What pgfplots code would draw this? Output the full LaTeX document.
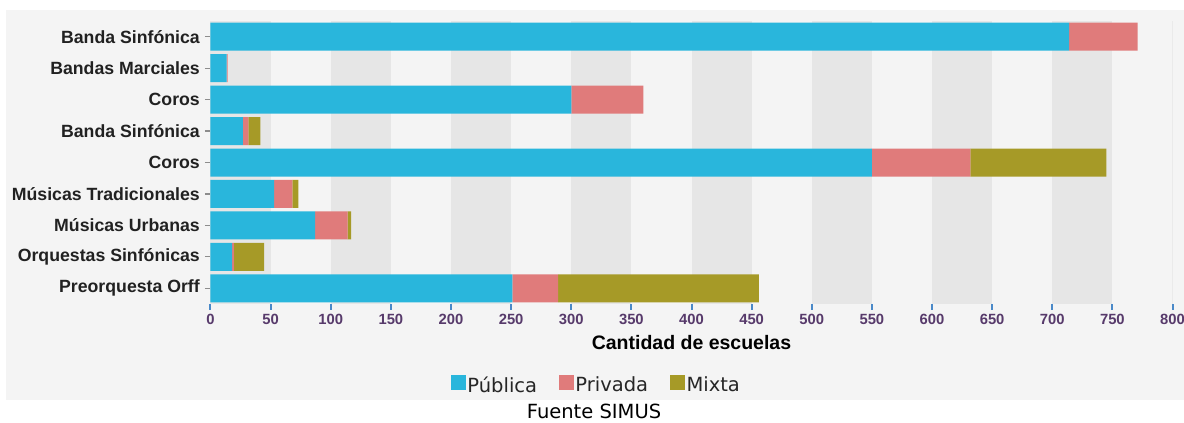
\documentclass[border=0pt]{standalone}
\usepackage{pgfplots}
\pgfplotsset{compat=1.18}
\usepackage{fontspec}
\setmainfont{Liberation Sans}
\newfontfamily\dejavu{DejaVu Sans}
\definecolor{cpub}{HTML}{29B6DC}
\definecolor{cpriv}{HTML}{E07B7B}
\definecolor{cmix}{HTML}{A69A27}
\definecolor{panel}{HTML}{F4F4F4}
\definecolor{band}{HTML}{E6E6E6}
\definecolor{tickblue}{HTML}{4A89C8}
\definecolor{ticklab}{HTML}{573A6B}
\begin{document}
\begin{tikzpicture}
\useasboundingbox[fill=white] (-210.5bp,-119bp) rectangle (973.5bp,304bp);
\fill[panel] (-204.5bp,-96bp) rectangle (973.5bp,294bp);
\begin{axis}[
 at={(0,0)}, anchor=south west,
 scale only axis, width=962bp, height=283bp,
 xbar stacked, bar width=28bp,
 xmin=0, xmax=800, ymin=-0.5, ymax=8.5, y dir=reverse,
 axis x line*=bottom, axis y line*=left, axis line style={draw=none},
 xtick={0,50,...,800},
 ytick={0,...,8},
 yticklabels={Banda Sinfónica, Bandas Marciales, Coros, Banda Sinfónica, Coros, Músicas Tradicionales, Músicas Urbanas, Orquestas Sinfónicas, Preorquesta Orff},
 tick align=outside, major tick length=5.5bp,
 xtick style={color=tickblue, line width=2bp},
 ytick style={color=black!45, line width=1.2bp},
 extra x ticks={25,125,225,325,425,525,625,725},
 extra x tick labels={},
 extra x tick style={grid=major, major grid style={line width=60.125bp, draw=band}, major tick length=0pt},
 yticklabel style={font=\fontsize{17.7bp}{20bp}\selectfont\bfseries, color=black!87, inner sep=0pt, anchor=east, xshift=-5bp},
 xticklabel style={font=\fontsize{14.8bp}{16bp}\selectfont\bfseries, color=ticklab, inner sep=0pt, anchor=north, yshift=-4bp},
 /pgf/number format/assume math mode=true,
 xlabel={Cantidad de escuelas},
 xlabel style={font=\fontsize{19.5bp}{22bp}\selectfont\bfseries, at={(axis description cs:0.5,-0.1625)}, anchor=base, inner sep=0pt},
 legend columns=3,
 legend style={at={(axis description cs:0.4007,-0.2862)}, anchor=center, draw=none, fill=none,
   font=\dejavu\fontsize{19.5bp}{22bp}\selectfont, text=black!85,
   /tikz/every even column/.append style={column sep=20bp},
   /tikz/every odd column/.append style={column sep=0bp},
   inner sep=0pt, nodes={inner sep=1.5bp}},
 legend image code/.code={\fill[#1] (0bp,-5bp) rectangle (15.4bp,10.4bp);},
]
\addplot[fill=cpub, draw=none] coordinates {(714,0) (13.5,1) (300,2) (27,3) (550,4) (53,5) (87,6) (18,7) (251,8)};
\addplot[fill=cpriv, draw=none] coordinates {(57,0) (0.8,1) (60,2) (4.5,3) (82,4) (15,5) (27,6) (1.5,7) (38,8)};
\addplot[fill=cmix, draw=none] coordinates {(0,0) (0,1) (0,2) (10,3) (113,4) (5,5) (3,6) (25,7) (167,8)};
\legend{Pública, Privada, Mixta}
\draw[color=black!10, line width=1.5bp] (axis cs:800,-0.5) -- (axis cs:800,8.5);
\end{axis}
\node[font=\dejavu\fontsize{19.5bp}{22bp}\selectfont, anchor=base, inner sep=0pt] at (383.5bp,-114.3bp) {Fuente SIMUS};
\end{tikzpicture}
\end{document}
